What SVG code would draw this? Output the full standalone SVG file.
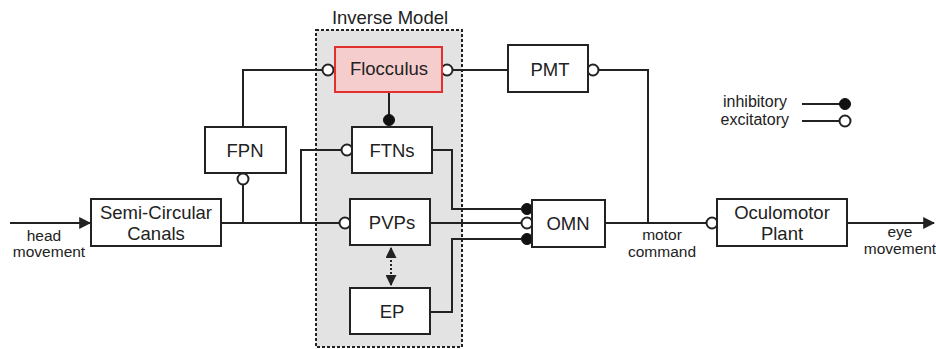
<svg xmlns="http://www.w3.org/2000/svg" width="936" height="349" viewBox="0 0 936 349">
<defs>
<style>
.box{fill:#fff;stroke:#222;stroke-width:2}
.lbl{font-family:"Liberation Sans",Arial,sans-serif;font-size:18.5px;fill:#222;text-anchor:middle}
.sm{font-family:"Liberation Sans",Arial,sans-serif;font-size:15.5px;fill:#222;text-anchor:middle}
.ln{fill:none;stroke:#222;stroke-width:2}
.exc{fill:#fff;stroke:#222;stroke-width:2}
.inh{fill:#111;stroke:#111;stroke-width:1}
</style>
<marker id="arr" viewBox="0 0 10 10" refX="9" refY="5" markerWidth="6" markerHeight="6" markerUnits="strokeWidth" orient="auto"><path d="M0,0L10,5L0,10z" fill="#222"/></marker>
<marker id="arrs" viewBox="0 0 10 10" refX="9" refY="5" markerWidth="5.5" markerHeight="5.5" markerUnits="strokeWidth" orient="auto-start-reverse"><path d="M0,0L10,5L0,10z" fill="#222"/></marker>
</defs>
<rect width="936" height="349" fill="#fff"/>
<g id="inverse-model">
<rect x="316" y="30" width="146" height="317" fill="#e3e3e3" stroke="#222" stroke-width="2" stroke-dasharray="3,2"/>
<text class="lbl" x="390" y="24">Inverse Model</text>
</g>
<g id="connectors">
<path class="ln" d="M10,223H90" marker-end="url(#arr)"/>
<path class="ln" d="M221,223H339"/>
<path class="ln" d="M243,223V184"/>
<path class="ln" d="M243,127V70H322"/>
<path class="ln" d="M301,223V150H341"/>
<path class="ln" d="M389,92V120"/>
<path class="ln" d="M453,70H508"/>
<path class="ln" d="M599,70H648V223"/>
<path class="ln" d="M432,150H452V209H521"/>
<path class="ln" d="M430,223H521"/>
<path class="ln" d="M430,312H452V239H521"/>
<path class="ln" d="M605,223H706"/>
<path class="ln" d="M847,223H934" marker-end="url(#arr)"/>
<path d="M391,248V285" fill="none" stroke="#222" stroke-width="2" stroke-dasharray="2,2" marker-start="url(#arrs)" marker-end="url(#arrs)"/>
<circle class="exc" cx="328" cy="70" r="5.5"/>
<circle class="exc" cx="447" cy="70" r="5.5"/>
<circle class="exc" cx="593" cy="70" r="5.5"/>
<circle class="inh" cx="389" cy="120" r="5.5"/>
<circle class="exc" cx="347" cy="150" r="5.5"/>
<circle class="exc" cx="243" cy="179" r="5.5"/>
<circle class="exc" cx="345" cy="223" r="5.5"/>
<circle class="inh" cx="527" cy="209" r="5.5"/>
<circle class="exc" cx="527" cy="223" r="5.5"/>
<circle class="inh" cx="527" cy="239" r="5.5"/>
<circle class="exc" cx="712" cy="223" r="5.5"/>
</g>
<g id="flocculus">
<rect x="335" y="47" width="107" height="45" fill="#f6cdcd" stroke="#e0312f" stroke-width="2"/>
<text class="lbl" x="389" y="75">Flocculus</text>
</g>
<g id="ftns"><rect class="box" x="352" y="127" width="80" height="46"/><text class="lbl" x="392" y="157">FTNs</text></g>
<g id="fpn"><rect class="box" x="205" y="127" width="81" height="46"/><text class="lbl" x="245" y="157">FPN</text></g>
<g id="pvps"><rect class="box" x="350" y="199" width="80" height="46"/><text class="lbl" x="392" y="229">PVPs</text></g>
<g id="ep"><rect class="box" x="350" y="288" width="80" height="46"/><text class="lbl" x="392" y="318">EP</text></g>
<g id="pmt"><rect class="box" x="508" y="45" width="80" height="47"/><text class="lbl" x="550" y="76">PMT</text></g>
<g id="omn"><rect class="box" x="532" y="200" width="73" height="47"/><text class="lbl" x="568" y="230">OMN</text></g>
<g id="scc"><rect class="box" x="91" y="199" width="130" height="47"/><text class="lbl" x="156" y="219">Semi-Circular</text><text class="lbl" x="156" y="240">Canals</text></g>
<g id="plant"><rect class="box" x="717" y="199" width="130" height="47"/><text class="lbl" x="782" y="219">Oculomotor</text><text class="lbl" x="782" y="240">Plant</text></g>
<g id="labels">
<text class="sm" x="44" y="241">head</text>
<text class="sm" x="49" y="257">movement</text>
<text class="sm" x="662" y="240">motor</text>
<text class="sm" x="662" y="257">command</text>
<text class="sm" x="900" y="237">eye</text>
<text class="sm" x="900" y="254">movement</text>
</g>
<g id="legend">
<text class="sm" x="787" y="107" style="text-anchor:end;font-size:16px">inhibitory</text>
<text class="sm" x="789" y="125" style="text-anchor:end;font-size:16px">excitatory</text>
<path class="ln" d="M802,104H840M802,121H840"/>
<circle class="inh" cx="845" cy="104" r="5.5"/>
<circle class="exc" cx="845" cy="121" r="5.5"/>
</g>
</svg>
